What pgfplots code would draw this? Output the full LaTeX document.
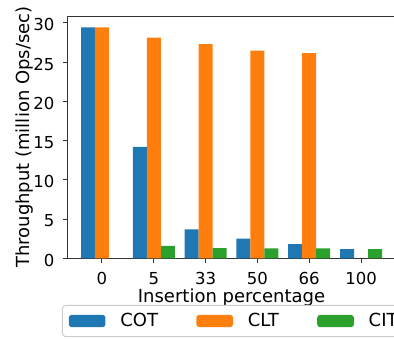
\documentclass[border=0pt]{standalone}
\usepackage{pgfplots}
\pgfplotsset{compat=1.18}
\usepackage{fontspec}
\setmainfont{DejaVu Sans}
\definecolor{cot}{HTML}{1F77B4}
\definecolor{clt}{HTML}{FF7F0E}
\definecolor{cit}{HTML}{2CA02C}
\begin{document}
\begin{tikzpicture}
\begin{axis}[
  at={(0pt,0pt)}, anchor=south west,
  scale only axis,
  width=327pt, height=242.3pt,
  xmin=-0.656, xmax=5.656,
  ymin=0, ymax=30.87,
  xtick={0,1,2,3,4,5},
  xticklabels={0,5,33,50,66,100},
  ytick={0,5,10,15,20,25,30},
  tick pos=left,
  tick align=outside,
  major tick length=4.9pt,
  tick style={black!80, line width=1pt},
  axis line style={black!80, line width=1pt},
  /pgf/number format/assume math mode=true,
  ticklabel style={font=\fontsize{16.5}{19}\selectfont},
  xticklabel style={anchor=base, inner sep=0pt, yshift=-21.7pt},
  yticklabel style={anchor=east, inner sep=0pt, xshift=-8.6pt, yshift=-2pt},
  xlabel={Insertion percentage},
  ylabel={Throughput (million Ops/sec)},
  label style={font=\fontsize{18}{21}\selectfont},
  xlabel style={at={(rel axis cs:0.5,0)}, anchor=base, yshift=-44.1pt},
  ylabel style={at={(axis description cs:-0.133,0.5)}, anchor=center},
  legend columns=3,
  legend style={
    at={(axis description cs:-0.01835,-0.1927)}, anchor=north west,
    font=\fontsize{18}{21}\selectfont,
    draw=black!20, line width=1pt, rounded corners=3pt, fill=white,
    inner xsep=6.3pt, inner ysep=6.1pt,
    nodes={inner sep=2pt, text depth=0.15em},
    /tikz/every odd column/.append style={column sep=12.8pt},
    /tikz/every even column/.append style={column sep=36.3pt},
  },
  legend image code/.code={\fill[#1] (0pt,-6.2pt) rectangle (36.7pt,6.2pt);},
]
\addplot[ybar, bar width=0.27, bar shift=0pt, fill=cot, draw=none]
  coordinates {(-0.27,29.43) (0.73,14.2) (1.73,3.69) (2.73,2.50) (3.73,1.82) (4.73,1.18)};
\addlegendentry{COT}
\addplot[ybar, bar width=0.27, bar shift=0pt, fill=clt, draw=none]
  coordinates {(0,29.43) (1,28.10) (2,27.29) (3,26.45) (4,26.15)};
\addlegendentry{CLT}
\addplot[ybar, bar width=0.27, bar shift=0pt, fill=cit, draw=none]
  coordinates {(1.27,1.57) (2.27,1.31) (3.27,1.27) (4.27,1.27) (5.27,1.18)};
\addlegendentry{CIT}
\end{axis}
\pgfresetboundingbox
\useasboundingbox (-68pt,-79.7pt) rectangle (326pt,258.3pt);
\end{tikzpicture}
\end{document}
